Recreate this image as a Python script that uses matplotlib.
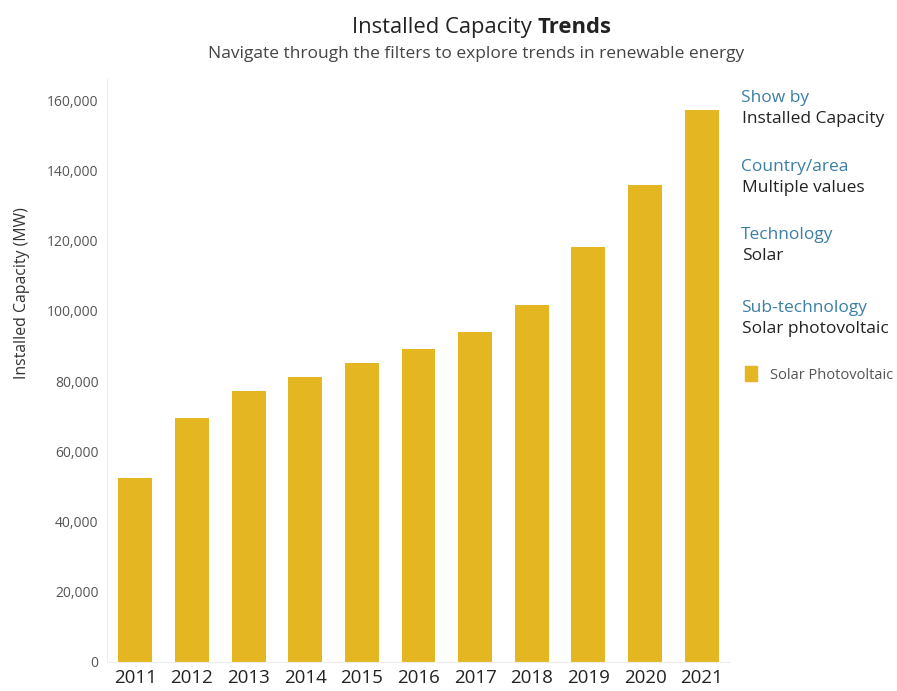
import matplotlib.pyplot as plt
from matplotlib.ticker import FuncFormatter

# Installed solar PV capacity by year (MW)
years = ['2011', '2012', '2013', '2014', '2015', '2016', '2017', '2018', '2019', '2020', '2021']
capacity_mw = [52400, 69500, 77200, 81200, 85100, 89100, 94000, 101600, 118200, 135900, 157200]

filter_names = ['Show by', 'Country/area', 'Technology', 'Sub-technology']
filter_values = ['Installed Capacity', 'Multiple values', 'Solar', 'Solar photovoltaic']

bar_color = '#E4B722'
teal = '#3B7FA6'
plt.rcParams['font.family'] = ['Open Sans', 'DejaVu Sans']

fig = plt.figure(figsize=(8.97, 6.91), dpi=100)
ax = fig.add_axes([0.1193, 0.042, 0.6945, 0.8437])

x = range(len(years))
ax.bar(x, capacity_mw, width=0.6, color=bar_color)

ax.set_xlim(-0.5, len(years) - 0.5)
ax.set_ylim(0, 166000)
ax.set_yticks(range(0, 160001, 20000))
ax.yaxis.set_major_formatter(FuncFormatter(lambda v, p: f'{int(v):,}'))
ax.set_xticks(list(x))
ax.set_xticklabels(years, fontsize=13.5, color='#222222')
ax.tick_params(axis='y', labelsize=10, colors='#555555', length=0, pad=6)
ax.tick_params(axis='x', length=0, pad=5)

for side in ['top', 'right']:
    ax.spines[side].set_visible(False)
for side in ['left', 'bottom']:
    ax.spines[side].set_color('#eeeeee')

# y-axis title placed by hand so it sits left of the tick labels
fig.text(0.025, 0.576, 'Installed Capacity (MW)', rotation=90, ha='center', va='center',
         fontsize=11.4, color='#333333')

# Title and subtitle
fig.text(0.599, 0.960, 'Installed Capacity ', ha='right', va='center', fontsize=15.8, color='#222222')
fig.text(0.599, 0.960, 'Trends', ha='left', va='center', fontsize=15.8, color='#222222', fontweight='bold')
fig.text(0.531, 0.922, 'Navigate through the filters to explore trends in renewable energy',
         ha='center', va='center', fontsize=12.5, color='#444444')

# Filter panel on the right
panel_y = [0.858, 0.758, 0.660, 0.554]
for name, value, y in zip(filter_names, filter_values, panel_y):
    fig.text(0.826, y, name, ha='left', va='center', fontsize=12.5, color=teal)
    fig.text(0.827, y - 0.0304, value, ha='left', va='center', fontsize=12.5, color='#222222')

# Legend
fig.patches.append(plt.Rectangle((0.830, 0.449), 0.014, 0.021, transform=fig.transFigure,
                                 color=bar_color, figure=fig))
fig.text(0.858, 0.456, 'Solar Photovoltaic', ha='left', va='center', fontsize=10.5, color='#555555')

fig.savefig('out.png', dpi=100, facecolor='white')
